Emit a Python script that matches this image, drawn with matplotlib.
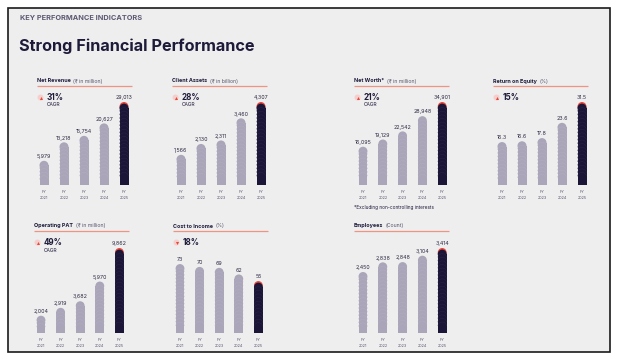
import matplotlib
matplotlib.use("Agg")
import matplotlib.pyplot as plt
from matplotlib.patches import Rectangle, Ellipse
import numpy as np

plt.rcParams['font.family'] = ['Inter', 'DejaVu Sans']

# ---------------- data ----------------
years = ["2021", "2022", "2023", "2024", "2025"]

net_revenue = [5979, 13218, 15754, 20627, 29013]
client_assets = [1566, 2130, 2311, 3460, 4307]
net_worth = [16095, 19129, 22542, 28948, 34901]
roe = [16.3, 16.6, 17.8, 23.6, 31.5]
operating_pat = [2004, 2919, 3682, 5970, 9862]
cost_to_income = [73, 70, 69, 62, 55]
employees = [2450, 2838, 2848, 3104, 3414]

net_revenue_labels = ["5,979", "13,218", "15,754", "20,627", "29,013"]
client_assets_labels = ["1,566", "2,130", "2,311", "3,460", "4,307"]
net_worth_labels = ["16,095", "19,129", "22,542", "28,948", "34,901"]
roe_labels = ["16.3", "16.6", "17.8", "23.6", "31.5"]
operating_pat_labels = ["2,004", "2,919", "3,682", "5,970", "9,862"]
cost_to_income_labels = ["73", "70", "69", "62", "55"]
employees_labels = ["2,450", "2,838", "2,848", "3,104", "3,414"]

titles = ["Net Revenue", "Client Assets", "Net Worth*", "Return on Equity",
          "Operating PAT", "Cost to Income", "Employees"]
units = ["(₹ in million)", "(₹ in billion)", "(₹ in million)", "(%)",
         "(₹ in million)", "(%)", "(Count)"]
growth = ["31%", "28%", "21%", "15%", "49%", "18%", None]
growth_sub = ["CAGR", "CAGR", "CAGR", None, "CAGR", None, None]
growth_dir = ["up", "up", "up", "up", "up", "down", None]

# ---------------- style ----------------
W, H = 620, 363
BG = "#eeeeef"
GRAY = "#aaa5b9"
GRAY_L = "#b3aec2"
DARK = "#1b1637"
DARK_L = "#2c2749"
RED = "#e8473c"
TXT = "#1e1b3a"
SUB = "#55526a"
LINE = "#ee9482"

fig = plt.figure(figsize=(W / 100, H / 100), dpi=100)
fig.patch.set_facecolor("white")

# overlay axes in pixel coordinates
ov = fig.add_axes([0, 0, 1, 1])
ov.set_xlim(0, W)
ov.set_ylim(H, 0)
ov.axis("off")
ov.add_patch(Rectangle((8, 8), 602, 344, facecolor=BG, edgecolor="#1a1a1a", lw=1.2))

ov.text(20, 17.5, "KEY PERFORMANCE INDICATORS", fontsize=5.3, fontweight="bold",
        color="#5d5a72", va="center", ha="left")
ov.text(19, 46, "Strong Financial Performance", fontsize=11.7, fontweight="bold",
        color=TXT, va="center", ha="left")

# panel layout: (header_x, header_y, first_bar_center_px, bar_spacing_px, baseline_px, top_px, ylo, yhi)
panels = [
    (37, 81, 44, 20, 185, 102, -3500, 29013),
    (172, 81, 181, 20, 185, 102, 0, 4307),
    (354, 81, 363, 19.8, 185, 102, 0, 34901),
    (493, 81, 502, 20, 185, 102, 0, 31.5),
    (34, 226, 41, 19.6, 333, 248, 0, 9862),
    (173, 226, 180, 19.6, 333, 248, 0, 90),
    (354, 226, 363, 19.8, 333, 248, 0, 3414),
]
series = [net_revenue, client_assets, net_worth, roe, operating_pat, cost_to_income, employees]
labels = [net_revenue_labels, client_assets_labels, net_worth_labels, roe_labels,
          operating_pat_labels, cost_to_income_labels, employees_labels]

fig.canvas.draw()
renderer = fig.canvas.get_renderer()

BAR_W = 0.45
for k, (hx, hy, c0, sp, base_px, top_px, ylo, yhi) in enumerate(panels):
    vals = series[k]
    # header
    t = ov.text(hx, hy, titles[k], fontsize=3.9, fontweight="bold", color=TXT,
                va="center", ha="left")
    bb = t.get_window_extent(renderer=renderer)
    ov.text(hx + bb.width + 2.5, hy, units[k], fontsize=3.7, color=SUB,
            va="center", ha="left")
    ov.plot([hx, hx + 95], [hy + 5, hy + 5], color=LINE, lw=0.9, solid_capstyle="butt")
    # growth badge
    if growth[k] is not None:
        gy = hy + 16.5
        ov.add_patch(Ellipse((hx + 3.5, gy), 6, 6, facecolor="#f5cfcc", edgecolor="none"))
        ov.plot([hx + 3.5], [gy], marker="^" if growth_dir[k] == "up" else "v",
                color=RED, markersize=2.2, markeredgewidth=0)
        ov.text(hx + 9.5, gy, growth[k], fontsize=5.8, fontweight="bold", color=TXT,
                va="center", ha="left")
        if growth_sub[k]:
            ov.text(hx + 9.5, gy + 7.5, growth_sub[k], fontsize=3.5, color=TXT,
                    va="center", ha="left")

    # bar axes
    left_px = c0 - sp / 2
    width_px = sp * 5
    ax = fig.add_axes([left_px / W, 1 - base_px / H, width_px / W, (base_px - top_px) / H])
    ax.set_xlim(-0.5, 4.5)
    ax.set_ylim(ylo, yhi)
    ax.axis("off")
    ax.patch.set_alpha(0)
    px = (yhi - ylo) / (base_px - top_px)  # data units per pixel
    rr = BAR_W / 2 * width_px / 5 * px  # radius in y data units
    for i, v in enumerate(vals):
        last = i == len(vals) - 1
        col = DARK if last else GRAY
        colL = DARK_L if last else GRAY_L
        top = v
        if last:
            ax.add_patch(Ellipse((i, top - rr), BAR_W, 2 * rr, facecolor=RED, edgecolor="none",
                                 clip_on=False))
            top = v - 1.6 * px
        ax.bar(i, top - rr - ylo, bottom=ylo, width=BAR_W, color=col, linewidth=0, clip_on=False)
        ax.add_patch(Ellipse((i, top - rr), BAR_W, 2 * rr, facecolor=col, edgecolor="none",
                             clip_on=False))
        # subtle chevron texture
        yy = top - rr - 3.2 * px
        while yy - rr > ylo + 1 * px:
            th = np.linspace(0, np.pi, 20)
            ax.plot(i + BAR_W / 2 * 0.95 * np.cos(th), yy + rr * 0.8 * np.sin(th),
                    color=colL, lw=0.3, clip_on=False)
            yy -= 3.6 * px
        ax.annotate(labels[k][i], (i, v), xytext=(0, 1.3), textcoords="offset points",
                    ha="center", va="bottom", fontsize=3.8, color="#2b2840", annotation_clip=False)
        ax.annotate("FY", (i, ylo), xytext=(0, -3.4), textcoords="offset points",
                    ha="center", va="top", fontsize=2.7, color=SUB, annotation_clip=False)
        ax.annotate(years[i], (i, ylo), xytext=(0, -7.8), textcoords="offset points",
                    ha="center", va="top", fontsize=2.7, color=SUB, annotation_clip=False)

ov.text(354, 208, "*Excluding non-controlling interests", fontsize=3.4, color=TXT,
        va="center", ha="left")

fig.savefig("out.png", dpi=100, facecolor=fig.get_facecolor())
